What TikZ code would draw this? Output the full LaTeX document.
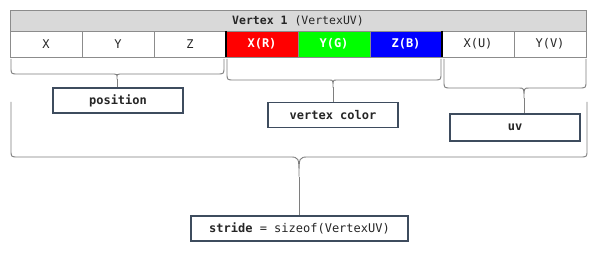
\documentclass[tikz,border=0pt]{standalone}
\usepackage{fontspec}
\setmonofont{DejaVu Sans Mono}
\usetikzlibrary{positioning,calc}

\definecolor{cellline}{HTML}{8C8C8C}
\definecolor{boxline}{HTML}{3E4C5E}
\definecolor{hdrfill}{HTML}{D9D9D9}
\definecolor{txtgray}{HTML}{262626}

\tikzset{
  monofont/.style={font=\ttfamily\fontsize{12}{14}\selectfont},
  cell/.style={draw=cellline, minimum width=72pt, minimum height=26pt,
    inner sep=0pt, outer sep=0pt, monofont, text=txtgray},
  colcell/.style={cell, fill=#1, text=white, font=\ttfamily\bfseries\fontsize{12}{14}\selectfont},
  hdr/.style={draw=cellline, fill=hdrfill, minimum width=576pt, minimum height=21pt,
    inner sep=0pt, outer sep=0pt, font=\ttfamily\fontsize{11.5}{13}\selectfont, text=txtgray},
  lbl/.style={draw=boxline, line width=1.3pt, fill=white, minimum width=130pt,
    minimum height=25pt, inner sep=0pt,
    font=\ttfamily\bfseries\fontsize{12}{14}\selectfont, text=txtgray},
  brc/.style={draw=cellline!90!black, line width=0.9pt}
}

% left x, right x, top y, middle y, tip x, target node
\newcommand{\groupbrace}[6]{%
  \pgfmathsetmacro{\brdepth}{(#3-#4)/2.8}%
  \pgfmathsetmacro{\brhalf}{\brdepth/2}%
  \draw[brc] (#1,#3) -- (#1,#4+7) .. controls (#1,#4) .. (#1+7,#4)
    -- (#5-\brhalf,#4) .. controls (#5,#4) .. (#5,#4-\brdepth)
    .. controls (#5,#4) .. (#5+\brhalf,#4) -- (#2-7,#4)
    .. controls (#2,#4) .. (#2,#4+7) -- (#2,#3);
  \draw[brc] (#5,#4-\brdepth) -- (#5,0 |- #6.north);
}

\begin{document}
\begin{tikzpicture}[x=1pt, y=1pt]

  \fill[white] (0,0) rectangle (600,252);
  \useasboundingbox (0,0) rectangle (600,252);

  % vertex layout
  \node[hdr] (head) at (298,231.5) {{\bfseries Vertex 1} (VertexUV)};
  \node[cell, anchor=north west] (c1) at (head.south west) {X};
  \node[cell, right=0pt of c1] (c2) {Y};
  \node[cell, right=0pt of c2] (c3) {Z};
  \node[colcell=red, right=0pt of c3] (c4) {X(R)};
  \node[colcell=green, right=0pt of c4] (c5) {Y(G)};
  \node[colcell=blue, right=0pt of c5] (c6) {Z(B)};
  \node[cell, right=0pt of c6] (c7) {X(U)};
  \node[cell, right=0pt of c7] (c8) {Y(V)};

  \draw[line width=1.6pt] (c4.north west) -- (c4.south west);
  \draw[line width=1.6pt] (c7.north west) -- (c7.south west);

  % attribute boxes
  \node[lbl] (position) at (118,151.5) {position};
  \node[lbl] (vcolor) at (333,137) {vertex color};
  \node[lbl, minimum height=27pt] (uv) at (515,124.5) {uv};
  \node[lbl, minimum width=217pt] (stride) at (299.5,23.5)
    {stride \mdseries= sizeof(VertexUV)};

  % braces
  \groupbrace{11}{224}{193}{178}{117}{position}
  \groupbrace{227}{441}{193}{172}{333}{vcolor}
  \groupbrace{444}{586}{193}{164}{524}{uv}
  \groupbrace{11}{587}{150}{95}{299}{stride}

\end{tikzpicture}
\end{document}
